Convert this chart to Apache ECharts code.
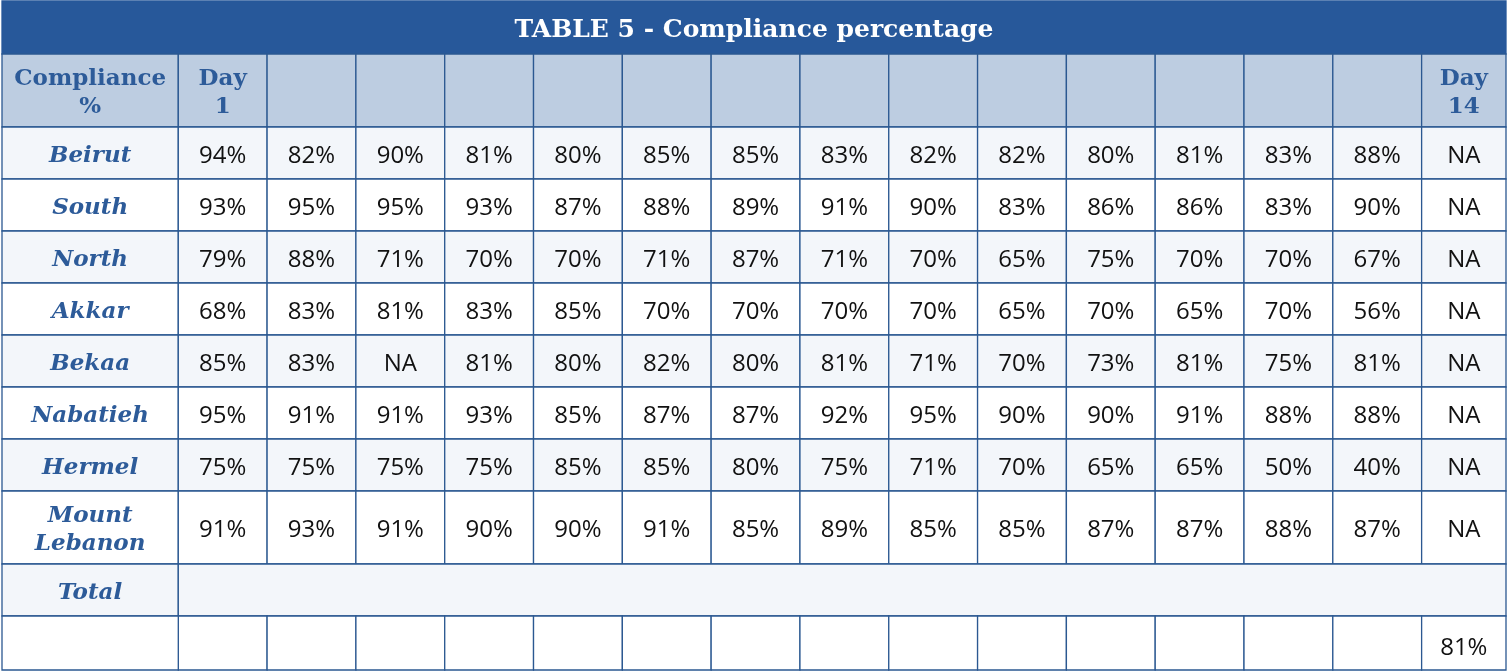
<!DOCTYPE html>
<html>
<head>
<meta charset="utf-8">
<script src="https://cdn.jsdelivr.net/npm/echarts@6/dist/echarts.min.js"></script>
<style>
  html, body { margin: 0; padding: 0; background: #ffffff; }
  #chart { width: 1508px; height: 672px; }
</style>
</head>
<body>
<div id="chart"></div>
<script>
// ---------- DATA ----------
const tableTitle = 'TABLE 5 - Compliance percentage';
const cornerLabel = 'Compliance\n%';
const dayHeaders = ['Day\n1', '', '', '', '', '', '', '', '', '', '', '', '', '', 'Day\n14'];
const regions = ['Beirut', 'South', 'North', 'Akkar', 'Bekaa', 'Nabatieh', 'Hermel', 'Mount\nLebanon'];
const beirut       = [94, 82, 90, 81, 80, 85, 85, 83, 82, 82, 80, 81, 83, 88, null];
const south        = [93, 95, 95, 93, 87, 88, 89, 91, 90, 83, 86, 86, 83, 90, null];
const north        = [79, 88, 71, 70, 70, 71, 87, 71, 70, 65, 75, 70, 70, 67, null];
const akkar        = [68, 83, 81, 83, 85, 70, 70, 70, 70, 65, 70, 65, 70, 56, null];
const bekaa        = [85, 83, null, 81, 80, 82, 80, 81, 71, 70, 73, 81, 75, 81, null];
const nabatieh     = [95, 91, 91, 93, 85, 87, 87, 92, 95, 90, 90, 91, 88, 88, null];
const hermel       = [75, 75, 75, 75, 85, 85, 80, 75, 71, 70, 65, 65, 50, 40, null];
const mountLebanon = [91, 93, 91, 90, 90, 91, 85, 89, 85, 85, 87, 87, 88, 87, null];
const regionValues = [beirut, south, north, akkar, bekaa, nabatieh, hermel, mountLebanon];
const totalLabel = 'Total';
const totalValues = [null, null, null, null, null, null, null, null, null, null, null, null, null, null, 81];

// ---------- LAYOUT (not data) ----------
const colUnits = [1.985, 1, 1, 1, 1, 1, 1, 1, 1, 1, 1, 1, 1, 1, 1, 0.95];
const rowUnits = [53, 73, 52, 52, 52, 52, 52, 52, 52, 73, 52, 54];
const colEdge = [0]; colUnits.forEach(u => colEdge.push(colEdge[colEdge.length - 1] + u));
const rowEdge = [0]; rowUnits.forEach(u => rowEdge.push(rowEdge[rowEdge.length - 1] + u));

const C = {
  titleBg: '#27589A',
  headerBg: '#BDCDE1',
  light: '#F3F6FA',
  white: '#FFFFFF',
  border: '#2B5891',
  headText: '#2D5B99',
  cellText: '#111111'
};
const fmt = v => (v === null || v === undefined) ? 'NA' : v + '%';

// build cell list: [col0, col1, row]
const cells = [];
const nCols = dayHeaders.length + 1;
cells.push({ value: [0, nCols, 0], text: tableTitle, kind: 'title' });
cells.push({ value: [0, 1, 1], text: cornerLabel, kind: 'header' });
dayHeaders.forEach((h, i) => cells.push({ value: [i + 1, i + 2, 1], text: h, kind: 'header' }));
regions.forEach((r, ri) => {
  const row = ri + 2;
  const bg = ri % 2 === 0 ? C.light : C.white;
  cells.push({ value: [0, 1, row], text: r, kind: 'label', bg });
  regionValues[ri].forEach((v, ci) => cells.push({ value: [ci + 1, ci + 2, row], text: fmt(v), kind: 'value', bg }));
});
const totalRow = regions.length + 2;
cells.push({ value: [0, 1, totalRow], text: totalLabel, kind: 'label', bg: C.light });
cells.push({ value: [1, nCols, totalRow], text: '', kind: 'value', bg: C.light });
totalValues.forEach((v, ci) => cells.push({ value: [ci + 1, ci + 2, totalRow + 1], text: v === null ? '' : fmt(v), kind: 'value', bg: C.white, low: true }));
cells.push({ value: [0, 1, totalRow + 1], text: '', kind: 'value', bg: C.white });

const chart = echarts.init(document.getElementById('chart'));
chart.setOption({
  animation: false,
  backgroundColor: '#ffffff',
  grid: { left: 2, right: 2, top: 1, bottom: 2, show: false },
  xAxis: { type: 'value', min: 0, max: colEdge[colEdge.length - 1], show: false },
  yAxis: { type: 'value', min: 0, max: rowEdge[rowEdge.length - 1], inverse: true, show: false },
  series: [{
    type: 'custom',
    data: cells.map(c => ({ value: c.value })),
    renderItem: function (params, api) {
      const c = cells[params.dataIndex];
      const c0 = api.value(0), c1 = api.value(1), r = api.value(2);
      const p0 = api.coord([colEdge[c0], rowEdge[r]]);
      const p1 = api.coord([colEdge[c1], rowEdge[r + 1]]);
      let fill = c.bg, stroke = C.border, font, color, lh, dy = 3;
      if (c.kind === 'title') {
        fill = C.titleBg; stroke = C.titleBg;
        font = 'bold 25px "DejaVu Serif"'; color = '#ffffff'; lh = 30;
      } else if (c.kind === 'header') {
        fill = C.headerBg; font = 'bold 23px "DejaVu Serif"'; color = C.headText; lh = 28;
      } else if (c.kind === 'label') {
        font = 'italic bold 23px "DejaVu Serif"'; color = C.headText; lh = 28;
      } else {
        font = '24px "Open Sans"'; color = C.cellText; lh = 28; dy = c.low ? 5 : 3;
      }
      return {
        type: 'rect',
        shape: { x: p0[0], y: p0[1], width: p1[0] - p0[0], height: p1[1] - p0[1] },
        style: { fill: fill, stroke: stroke, lineWidth: 1.3 },
        textContent: {
          style: { text: c.text, font: font, fill: color, lineHeight: lh, align: 'center', verticalAlign: 'middle' }
        },
        textConfig: { position: 'inside', offset: [0, dy] }
      };
    }
  }]
});
</script>
</body>
</html>
